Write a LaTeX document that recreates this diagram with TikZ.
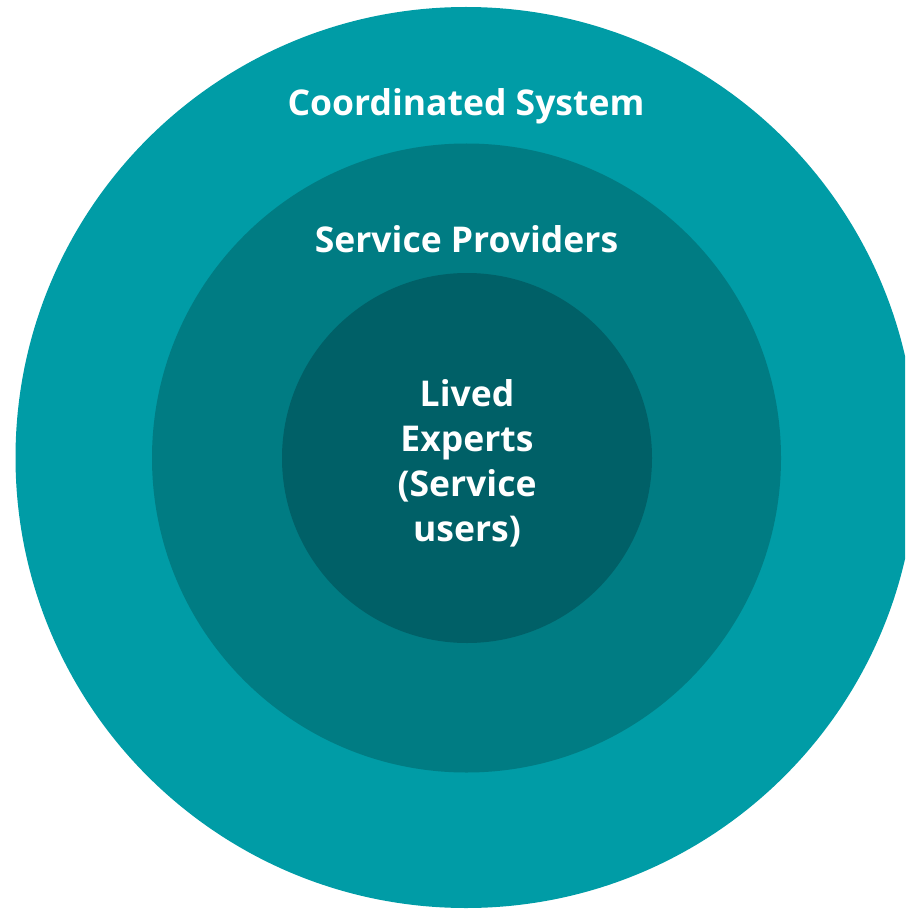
\documentclass[tikz,border=0pt]{standalone}
\usepackage{fontspec}
\setmainfont{Open Sans}
\usetikzlibrary{positioning}

\definecolor{outerteal}{RGB}{0,156,166}
\definecolor{midteal}{RGB}{0,124,131}
\definecolor{innerteal}{RGB}{0,96,103}

\begin{document}
\begin{tikzpicture}[x=1pt, y=-1pt]
    \tikzset{
        ring/.style={circle, draw=none, inner sep=0pt, minimum size=#1},
        ring_text/.style={text=white, align=center, inner sep=0pt,
            font=\fontsize{35.5}{45}\selectfont\bfseries}
    }

    \useasboundingbox (0,0) rectangle (905,909);
    \clip (0,0) rectangle (905,909);

    % three nested circles
    \node[ring=901pt, fill=outerteal] (Outer) at (466,457.5) {};
    \node[ring=629pt, fill=midteal] (Middle) at (466.5,458) {};
    \node[ring=370pt, fill=innerteal] (Inner) at (467,458) {};

    \node[ring_text] (OuterLabel) at (466,106) {Coordinated System};
    \node[ring_text] (MiddleLabel) at (466.5,239) {Service Providers};
    \node[ring_text] (InnerLabel) at (467,463) {Lived\\Experts\\(Service\\users)};

\end{tikzpicture}
\end{document}
